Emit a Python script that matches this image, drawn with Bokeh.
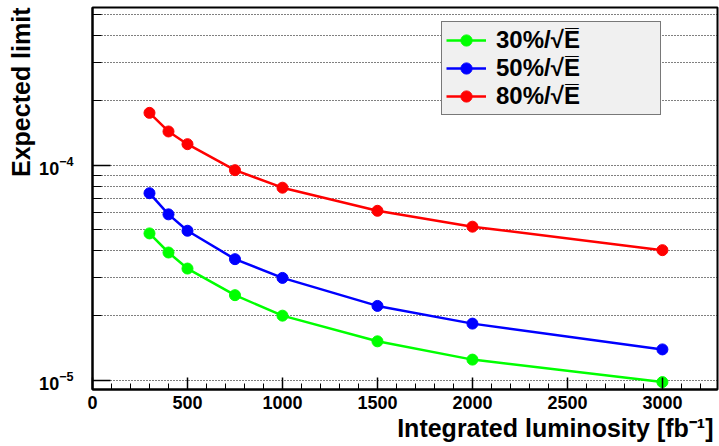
from bokeh.plotting import figure
from bokeh.models import FixedTicker, SingleIntervalTicker, Legend, LegendItem, Range1d, Title
from bokeh.embed import file_html
from bokeh.resources import INLINE

lumi = [300, 400, 500, 750, 1000, 1500, 2000, 3000]
res30 = [4.82e-5, 3.93e-5, 3.31e-5, 2.49e-5, 2.0e-5, 1.52e-5, 1.25e-5, 9.83e-6]
res50 = [7.41e-5, 5.91e-5, 4.96e-5, 3.66e-5, 2.995e-5, 2.22e-5, 1.837e-5, 1.394e-5]
res80 = [1.75e-4, 1.434e-4, 1.252e-4, 9.48e-5, 7.86e-5, 6.14e-5, 5.18e-5, 4.03e-5]
series_labels = ["30%/\u221aE\u0305", "50%/\u221aE\u0305", "80%/\u221aE\u0305"]
colors = ["#00ff00", "#0000ff", "#ff0000"]
y_major = [1e-5, 1e-4]
y_minor = [2e-5, 3e-5, 4e-5, 5e-5, 6e-5, 7e-5, 8e-5, 9e-5, 2e-4, 3e-4, 4e-4, 5e-4]
x_title = "Integrated luminosity [fb\u207b\u00b9]"
y_title = "Expected limit"

FONT = "Liberation Sans"

p = figure(width=719, height=446, y_axis_type="log",
           x_range=Range1d(0, 3290), y_range=Range1d(9.08e-6, 5.40e-4),
           output_backend="svg", toolbar_location=None,
           min_border_left=92, min_border_right=2, min_border_top=7, min_border_bottom=57)

p.outline_line_color = "black"
p.outline_line_width = 2
p.background_fill_color = "white"
p.border_fill_color = "white"

# axes
p.xaxis.ticker = SingleIntervalTicker(interval=500, num_minor_ticks=5)
p.yaxis.ticker = FixedTicker(ticks=y_major, minor_ticks=y_minor)

for ax in (p.xaxis[0], p.yaxis[0]):
    ax.axis_line_color = "black"
    ax.axis_line_width = 2
    ax.major_tick_out = 0
    ax.minor_tick_out = 0
    ax.major_tick_line_color = "black"
    ax.minor_tick_line_color = "black"
    ax.major_tick_line_width = 1.5
    ax.minor_tick_line_width = 1
    ax.major_label_text_font = FONT
    ax.major_label_text_font_style = "bold"
    ax.major_label_text_font_size = "18px"
    ax.major_label_text_color = "black"

p.xaxis.major_tick_in = 12
p.xaxis.minor_tick_in = 6
p.yaxis.major_tick_in = 18
p.yaxis.minor_tick_in = 9
p.xaxis.major_label_standoff = 6
p.yaxis.major_label_standoff = 19

# axis titles (right/top aligned as in ROOT)
for txt, side, off, so in ((x_title, "below", 4, 1), (y_title, "left", 0, 4)):
    t = Title(text=txt, align="right", offset=off, standoff=so,
              text_font=FONT, text_font_style="bold", text_font_size="25px",
              text_color="black")
    p.add_layout(t, side)

# grid
p.xgrid.visible = False
p.ygrid.grid_line_color = "black"
p.ygrid.grid_line_dash = "1 2"
p.ygrid.grid_line_width = 1
p.ygrid.minor_grid_line_color = "black"
p.ygrid.minor_grid_line_dash = "1 2"
p.ygrid.minor_grid_line_width = 1

items = []
for vals, col, lab in zip([res30, res50, res80], colors, series_labels):
    r1 = p.line(lumi, vals, line_color=col, line_width=2.5)
    r2 = p.scatter(lumi, vals, marker="circle", size=11, fill_color=col, line_color=col)
    items.append(LegendItem(label=lab, renderers=[r1, r2]))

legend = Legend(items=items, location=(349, 274))
legend.label_text_font = FONT
legend.label_text_font_style = "bold"
legend.label_text_font_size = "24px"
legend.label_text_color = "black"
legend.label_height = 28
legend.label_width = 160
legend.glyph_height = 28
legend.glyph_width = 40
legend.label_standoff = 10
legend.spacing = 0
legend.padding = 4
legend.margin = 0
legend.background_fill_color = "#f0f0f0"
legend.background_fill_alpha = 1
legend.border_line_color = "black"
legend.border_line_width = 1.5
p.add_layout(legend)

open("out.html", "w").write(file_html(p, INLINE))
